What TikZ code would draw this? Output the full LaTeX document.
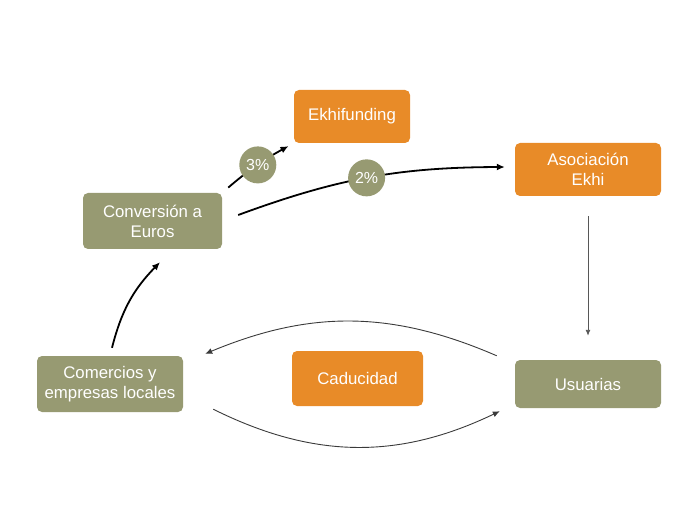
\documentclass[tikz,border=0pt]{standalone}
\usepackage{fontspec}
\setmainfont{Liberation Sans}
\usepackage{xcolor}
\usepackage{tikz}
\usetikzlibrary{arrows.meta,positioning,calc}
\definecolor{ekhiorange}{HTML}{E88B28}
\definecolor{ekhiolive}{HTML}{979A72}
\definecolor{ekhigray}{HTML}{3A3A3A}

\begin{document}
\begin{tikzpicture}[x=1pt,y=1pt,
  box/.style={rounded corners=5pt,align=center,text=white,inner sep=0pt,
    font=\fontsize{16.8}{20}\selectfont},
  orangebox/.style={box,fill=ekhiorange},
  olivebox/.style={box,fill=ekhiolive},
  pct/.style={circle,fill=ekhiolive,text=white,minimum size=37pt,inner sep=0pt,
    font=\fontsize{16}{18}\selectfont},
  thickarrow/.style={line width=1.8pt,-{Latex[length=8pt,width=7pt]}},
  thinarrow/.style={line width=0.9pt,ekhigray,-{Latex[length=7pt,width=6pt]}}]
  % page 700 x 525
  \useasboundingbox (0,0) rectangle (700,525);
  % boxes
  \node[orangebox,minimum width=116pt,minimum height=53pt] (ekhi) at (352,408.5){Ekhifunding};
  \node[orangebox,minimum width=146pt,minimum height=53pt] (asoc) at (588,355.5){Asociación\\Ekhi};
  \node[olivebox,minimum width=139pt,minimum height=56pt] (conv) at (152.5,304){Conversión a\\Euros};
  \node[olivebox,minimum width=146pt,minimum height=56pt] (com) at (110,141){Comercios y\\empresas locales};
  \node[orangebox,minimum width=131pt,minimum height=55pt] (cad) at (357.5,146.5){Caducidad};
  \node[olivebox,minimum width=146pt,minimum height=48pt] (usu) at (588,141){Usuarias};
  % money flows
  \draw[thickarrow,shorten <=8pt,shorten >=6pt] (conv.north east) to[bend left=6]
    node[pct,pos=0.52]{3\%} (ekhi.south west);
  \draw[thickarrow] ([shift={(16pt,6pt)}]conv.east) to[bend left=10]
    node[pct,pos=0.49]{2\%} ([shift={(-10pt,2.5pt)}]asoc.west);
  \draw[thickarrow] ([shift={(2pt,8pt)}]com.north) to[bend left=15] ([shift={(7.5pt,-13pt)}]conv.south);
  \draw[line width=0.9pt,ekhigray!85,-{Latex[length=6pt,width=5pt]},shorten <=20pt,shorten >=24pt]
    (asoc.south) -- (usu.north);
  % exchange loop
  \draw[thinarrow] ([shift={(-18pt,4pt)}]usu.north west) to[bend right=23] ([shift={(22pt,2pt)}]com.north east);
  \draw[thinarrow] ([shift={(30pt,3pt)}]com.south east) to[bend right=26] ([shift={(-15pt,-3pt)}]usu.south west);
\end{tikzpicture}
\end{document}
